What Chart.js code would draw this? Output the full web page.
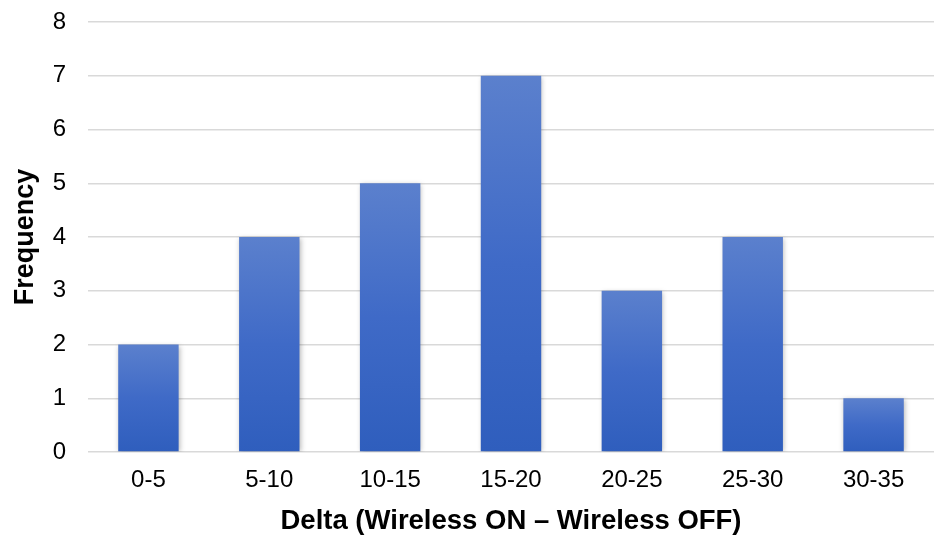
<!DOCTYPE html>
<html>
<head>
<meta charset="utf-8">
<script src="https://cdn.jsdelivr.net/npm/chart.js@4/dist/chart.umd.min.js"></script>
<style>
  html, body { margin: 0; padding: 0; background: #ffffff; }
  #wrap { width: 934px; height: 540px; }
</style>
</head>
<body>
<div id="wrap"><canvas id="c" width="934" height="540"></canvas></div>
<script>
const categories = ['0-5', '5-10', '10-15', '15-20', '20-25', '25-30', '30-35'];
const frequency = [2, 4, 5, 7, 3, 4, 1];
const xTitle = 'Delta (Wireless ON \u2013 Wireless OFF)';
const yTitle = 'Frequency';

const FONT = 'Liberation Sans, Arial, Helvetica, sans-serif';

// Soft drop shadow behind the bars
const barShadow = {
  id: 'barShadow',
  beforeDatasetsDraw(chart) {
    const ctx = chart.ctx;
    ctx.save();
    ctx.shadowColor = 'rgba(0,0,0,0.28)';
    ctx.shadowBlur = 5;
    ctx.shadowOffsetX = 1;
    ctx.shadowOffsetY = 1;
  },
  afterDatasetsDraw(chart) {
    chart.ctx.restore();
  }
};

// Each bar fades from a lighter blue at its top to a deeper blue at its base
function barFill(context) {
  const chart = context.chart;
  const area = chart.chartArea;
  if (!area) return '#4470c8';
  const y = chart.scales.y;
  const top = y.getPixelForValue(context.raw);
  const base = y.getPixelForValue(0);
  if (!isFinite(top) || !isFinite(base) || top === base) return '#4470c8';
  const g = chart.ctx.createLinearGradient(0, top, 0, base);
  g.addColorStop(0, '#5b80cd');
  g.addColorStop(0.5, '#3f6ac7');
  g.addColorStop(1, '#2f5ebd');
  return g;
}

new Chart(document.getElementById('c'), {
  type: 'bar',
  data: {
    labels: categories,
    datasets: [{
      data: frequency,
      backgroundColor: barFill,
      borderWidth: 0,
      barPercentage: 0.5,
      categoryPercentage: 1.0
    }]
  },
  options: {
    responsive: false,
    animation: false,
    devicePixelRatio: 1,
    layout: { padding: { top: 22, right: 0, left: 0, bottom: 0 } },
    plugins: {
      legend: { display: false },
      tooltip: { enabled: false }
    },
    scales: {
      x: {
        afterFit(scale) { scale.height = 88; },
        grid: { display: false, drawTicks: false },
        border: { display: false },
        ticks: {
          color: '#000000',
          font: { family: FONT, size: 24 },
          padding: 14
        },
        title: {
          display: true,
          text: xTitle,
          color: '#000000',
          font: { family: FONT, size: 27.5, weight: 'bold' },
          padding: { top: 11, bottom: 2 }
        }
      },
      y: {
        afterFit(scale) { scale.width = 88; },
        min: 0,
        max: 8,
        ticks: {
          stepSize: 1,
          color: '#000000',
          font: { family: FONT, size: 24 },
          padding: 0
        },
        grid: {
          color: '#d9d9d9',
          lineWidth: 1.5,
          drawTicks: true,
          tickLength: 22,
          tickColor: 'rgba(0,0,0,0)'
        },
        border: { display: false },
        title: {
          display: true,
          text: yTitle,
          color: '#000000',
          font: { family: FONT, size: 27, weight: 'bold' },
          padding: { top: 9, bottom: 11 }
        }
      }
    }
  },
  plugins: [barShadow]
});
</script>
</body>
</html>
